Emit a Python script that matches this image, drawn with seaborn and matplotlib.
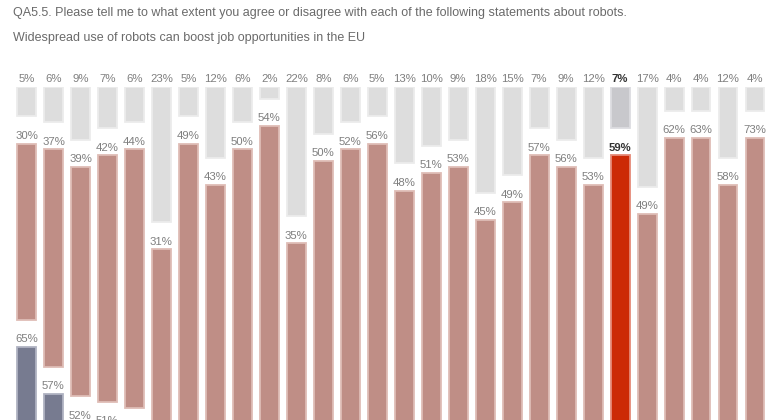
import numpy as np
import pandas as pd
import matplotlib
matplotlib.use("Agg")
import matplotlib.pyplot as plt
import seaborn as sns

# ---- data ----
categories = [f"C{i}" for i in range(1, 23)] + ["EU28"] + [f"C{i}" for i in range(23, 28)]
dont_know = [5, 6, 9, 7, 6, 23, 5, 12, 6, 2, 22, 8, 6, 5, 13, 10, 9, 18, 15, 7, 9, 12, 7, 17, 4, 4, 12, 4]
disagree = [30, 37, 39, 42, 44, 31, 49, 43, 50, 54, 35, 50, 52, 56, 48, 51, 53, 45, 49, 57, 56, 53, 59, 49, 62, 63, 58, 73]
agree = [65, 57, 52, 51, 50, 46, 46, 45, 44, 44, 43, 42, 42, 39, 39, 39, 38, 37, 36, 36, 35, 35, 34, 34, 34, 33, 30, 23]
highlight = "EU28"

title_1 = "QA5.5. Please tell me to what extent you agree or disagree with each of the following statements about robots."
title_2 = "Widespread use of robots can boost job opportunities in the EU"

# ---- styling ----
W, H = 772, 420
DPI = 100
GAP = 4.63  # gap between stacked segments, in value units
LABEL_COL = "#7f7f7f"
EU_LABEL_COL = "#333333"

seg_styles = {
    "dk": dict(face="#dddddd", edge="#ececec", eu_face="#c8c8cc", eu_edge="#dcdce0"),
    "dis": dict(face="#bf8e86", edge="#dfbdb6", eu_face="#cc2a06", eu_edge="#e58a78"),
    "agr": dict(face="#777b90", edge="#b0b3c2", eu_face="#777b90", eu_edge="#b0b3c2"),
}

sns.set_theme(style="white")
plt.rcParams["font.family"] = ["Liberation Sans", "DejaVu Sans"]

fig = plt.figure(figsize=(W / DPI, H / DPI), dpi=DPI)
top_px = 87
scale = 5.875  # px per unit
ymax = (H - top_px) / scale
ax = fig.add_axes([13 / W, 0, 755.5 / W, (H - top_px) / H])

df = pd.DataFrame({"cat": categories, "dk": dont_know, "dis": disagree, "agr": agree})
df["dk_start"] = 0.0
df["dis_start"] = df["dk"] + GAP
df["agr_start"] = df["dis_start"] + df["dis"] + GAP

for seg in ["dk", "dis", "agr"]:
    n0 = len(ax.patches)
    sns.barplot(data=df, x="cat", y=seg, order=categories, bottom=df[seg + "_start"].to_numpy(),
                width=0.7, saturation=1, errorbar=None, ax=ax, color="#cccccc")
    new = sorted(ax.patches[n0:], key=lambda p: p.get_x())
    st = seg_styles[seg]
    for cat, p, start, val in zip(categories, new, df[seg + "_start"], df[seg]):
        is_eu = cat == highlight
        p.set_facecolor(st["eu_face"] if is_eu else st["face"])
        p.set_edgecolor(st["eu_edge"] if is_eu else st["edge"])
        p.set_linewidth(1.3)
        if start > ymax + 2.0:
            continue  # label lies entirely below the visible (cropped) area
        xc = p.get_x() + p.get_width() / 2
        ax.annotate(f"{val}%", xy=(xc, start), xytext=(0, 2.0), textcoords="offset points",
                    ha="center", va="bottom", fontsize=8.2,
                    color=EU_LABEL_COL if is_eu else LABEL_COL,
                    fontweight="bold" if is_eu else "normal", annotation_clip=False)

ax.set_ylim(ymax, 0)
ax.set_xlim(-0.5, len(categories) - 0.5)
ax.set_axis_off()

fig.text(13 / W, 1 - 13 / H, title_1, ha="left", va="center", fontsize=9.0, color="#6a6a6a")
fig.text(13 / W, 1 - 38 / H, title_2, ha="left", va="center", fontsize=9.0, color="#6a6a6a")

fig.savefig("out.png", dpi=DPI, facecolor="white")
